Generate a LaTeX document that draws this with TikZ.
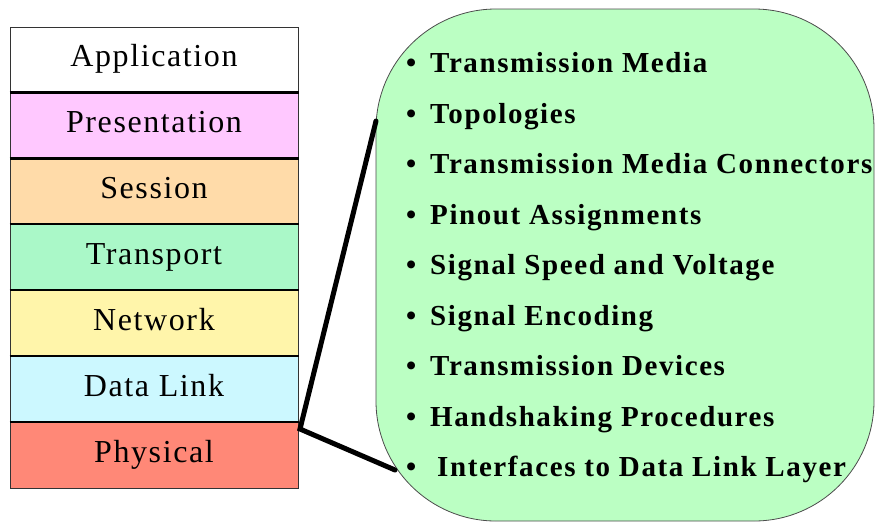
\documentclass[tikz,border=0pt]{standalone}
\usepackage{fontspec}
\setmainfont{Liberation Serif}
\newfontfamily\leftfont[LetterSpace=5]{Liberation Serif}
\newfontfamily\rightfont[LetterSpace=5.5]{Liberation Serif}
\definecolor{cpres}{HTML}{FFC8FF}
\definecolor{csess}{HTML}{FFDBA9}
\definecolor{ctrans}{HTML}{AAF8C8}
\definecolor{cnet}{HTML}{FFF5AA}
\definecolor{cdata}{HTML}{CCF8FF}
\definecolor{cphys}{HTML}{FF8877}
\definecolor{cbubble}{HTML}{BBFFC3}
\begin{document}
\begin{tikzpicture}[x=1pt,y=-1pt,
  layer/.style={draw=black!80, line width=1pt, minimum width=288pt, minimum height=65.9pt,
    inner sep=0pt, text height=21pt, text depth=7.6pt,
    font=\leftfont\fontsize{32}{32}\selectfont},
  divider/.style={line width=2.5pt, black},
  item/.style={anchor=base west, inner sep=0pt,
    font=\rightfont\bfseries\fontsize{29}{29}\selectfont},
  zoomline/.style={line width=5pt, black, line join=miter, line cap=round}]
\useasboundingbox (0,0) rectangle (875,523);
\fill[white] (0,0) rectangle (875,523);
% bubble
\node (bubble) [draw=black!70, line width=0.8pt, fill=cbubble, rounded corners=120pt,
  minimum width=498pt, minimum height=512pt, inner sep=0pt] at (625,265) {};
% layers
\node[layer, fill=white]  (app)  at (154,59.95)  {Application};
\node[layer, fill=cpres]  (pres) at (154,125.85) {Presentation};
\node[layer, fill=csess]  (sess) at (154,191.75) {Session};
\node[layer, fill=ctrans] (tran) at (154,257.65) {Transport};
\node[layer, fill=cnet]   (net)  at (154,323.55) {Network};
\node[layer, fill=cdata]  (data) at (154,389.45) {Data Link};
\node[layer, fill=cphys]  (phys) at (154,455.35) {Physical};
\draw[divider] (pres.north west) -- (pres.north east);
\draw[divider] (sess.north west) -- (sess.north east);
\draw[divider] (tran.north west) -- (tran.north east);
\draw[divider] (net.north west) -- (net.north east);
\draw[divider] (data.north west) -- (data.north east);
\draw[divider] (phys.north west) -- (phys.north east);
% zoom lines
\coordinate (joint) at (300,429);
\coordinate (up) at (376,121);
\coordinate (low) at (395,470);
\draw[zoomline] (up) -- (joint) -- (low);
% items
\node[item] (i1) at (406,72.7)  {\makebox[24pt][l]{\textbullet}Transmission Media};
\node[item] (i2) at (406,123.2) {\makebox[24pt][l]{\textbullet}Topologies};
\node[item] (i3) at (406,173.7) {\makebox[24pt][l]{\textbullet}Transmission Media Connectors};
\node[item] (i4) at (406,224.2) {\makebox[24pt][l]{\textbullet}Pinout Assignments};
\node[item] (i5) at (406,274.7) {\makebox[24pt][l]{\textbullet}Signal Speed and Voltage};
\node[item] (i6) at (406,325.2) {\makebox[24pt][l]{\textbullet}Signal Encoding};
\node[item] (i7) at (406,375.7) {\makebox[24pt][l]{\textbullet}Transmission Devices};
\node[item] (i8) at (406,426.2) {\makebox[24pt][l]{\textbullet}Handshaking Procedures};
\node[item] (i9) at (406,476.7) {\makebox[31pt][l]{\textbullet}Interfaces to Data Link Layer};
\end{tikzpicture}
\end{document}
